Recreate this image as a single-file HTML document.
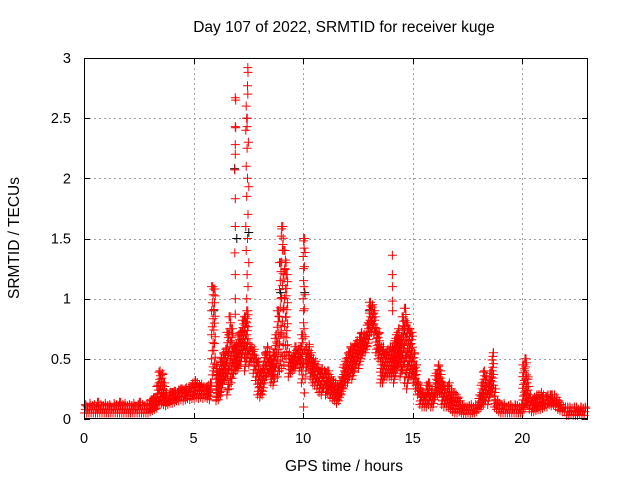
<!DOCTYPE html>
<html><head><meta charset="utf-8"><style>
body{margin:0;background:#fff;}
svg{display:block;font-family:"Liberation Sans",sans-serif;}
</style></head><body>
<svg id="chart" width="640" height="480">
<rect width="640" height="480" fill="#fff"/>
<text x="344" y="32" font-size="15.5" text-anchor="middle">Day 107 of 2022, SRMTID for receiver kuge</text>
<text x="344" y="471" font-size="15.5" text-anchor="middle">GPS time / hours</text>
<text x="19" y="238" font-size="15.5" text-anchor="middle" transform="rotate(-90 19 238)">SRMTID / TECUs</text>
<g id="grid"></g>
<g id="ticks"></g>
<g id="marks"></g>
<rect x="84.5" y="58.5" width="503" height="360" fill="none" stroke="#000"/>
</svg>
<script>
const xTicks=[0,5,10,15,20];
const yTicks=[0,0.5,1,1.5,2,2.5,3];
const yTickLabels=["0","0.5","1","1.5","2","2.5","3"];
const binStart=0, binWidth=0.1;
const lows=[
0.05,0.05,0.05,0.05,0.05,0.05,0.05,0.05,0.05,0.05,
0.05,0.05,0.05,0.05,0.05,0.05,0.05,0.05,0.05,0.05,
0.05,0.05,0.05,0.05,0.05,0.05,0.05,0.05,0.05,0.05,
0.06,0.07,0.08,0.09,0.12,0.13,0.12,0.11,0.12,0.13,
0.13,0.14,0.15,0.15,0.16,0.15,0.16,0.17,0.16,0.17,
0.17,0.18,0.17,0.18,0.17,0.18,0.17,0.16,0.3,0.4,
0.15,0.16,0.2,0.3,0.32,0.2,0.25,0.3,0.38,0.4,
0.42,0.45,0.55,0.4,0.5,0.45,0.48,0.38,0.32,0.2,
0.18,0.2,0.3,0.35,0.38,0.3,0.28,0.4,0.35,0.4,
0.42,0.45,0.5,0.35,0.38,0.4,0.42,0.45,0.4,0.3,
0.1,0.4,0.45,0.35,0.3,0.28,0.25,0.22,0.2,0.25,
0.2,0.22,0.18,0.17,0.15,0.13,0.15,0.2,0.25,0.3,
0.3,0.35,0.33,0.4,0.45,0.42,0.5,0.55,0.55,0.6,
0.7,0.72,0.7,0.55,0.5,0.3,0.3,0.35,0.35,0.35,
0.35,0.3,0.4,0.45,0.35,0.4,0.3,0.25,0.35,0.35,
0.3,0.25,0.2,0.12,0.1,0.1,0.1,0.12,0.1,0.1,
0.18,0.2,0.22,0.12,0.1,0.1,0.1,0.08,0.06,0.05,
0.05,0.06,0.05,0.04,0.04,0.05,0.04,0.05,0.05,0.06,
0.08,0.1,0.12,0.15,0.12,0.2,0.22,0.1,0.08,0.06,
0.05,0.05,0.05,0.05,0.05,0.05,0.05,0.05,0.05,0.05,
0.06,0.1,0.12,0.08,0.06,0.06,0.07,0.08,0.08,0.09,
0.1,0.1,0.12,0.11,0.12,0.1,0.08,0.07,0.06,0.06,
0.03,0.03,0.04,0.03,0.03,0.03,0.04,0.03,0.03];
const highs=[
0.12,0.1,0.13,0.11,0.12,0.1,0.14,0.12,0.11,0.13,
0.11,0.12,0.1,0.13,0.12,0.11,0.14,0.12,0.13,0.11,
0.12,0.11,0.13,0.1,0.12,0.14,0.12,0.11,0.13,0.12,
0.16,0.17,0.18,0.28,0.4,0.38,0.3,0.22,0.2,0.22,
0.22,0.23,0.22,0.24,0.25,0.24,0.26,0.25,0.27,0.3,
0.32,0.3,0.28,0.29,0.27,0.26,0.28,0.3,1.1,1.08,
0.45,0.4,0.5,0.55,0.58,0.72,0.85,0.75,0.6,0.62,
0.7,0.72,0.82,0.85,0.9,0.62,0.6,0.58,0.5,0.48,
0.4,0.45,0.55,0.6,0.55,0.5,0.55,0.7,0.9,1.3,
1.6,1.4,1.2,0.55,0.5,0.55,0.6,0.58,0.6,0.7,
1.5,0.6,0.62,0.55,0.5,0.48,0.45,0.4,0.42,0.4,
0.38,0.4,0.35,0.32,0.3,0.28,0.32,0.35,0.45,0.5,
0.55,0.6,0.58,0.62,0.65,0.68,0.72,0.7,0.7,0.8,
0.97,0.95,0.9,0.75,0.72,0.6,0.6,0.55,0.58,0.6,
0.6,0.65,0.7,0.75,0.68,0.85,0.92,0.8,0.75,0.72,
0.55,0.45,0.3,0.25,0.22,0.2,0.28,0.3,0.25,0.2,
0.38,0.45,0.4,0.3,0.28,0.27,0.3,0.25,0.22,0.2,
0.18,0.15,0.12,0.1,0.1,0.11,0.12,0.1,0.12,0.12,
0.2,0.3,0.4,0.35,0.28,0.4,0.55,0.25,0.15,0.13,
0.12,0.13,0.1,0.11,0.12,0.1,0.12,0.11,0.1,0.12,
0.45,0.5,0.35,0.2,0.15,0.18,0.2,0.2,0.22,0.2,
0.18,0.2,0.2,0.2,0.2,0.18,0.15,0.12,0.1,0.1,
0.1,0.1,0.09,0.1,0.1,0.08,0.1,0.09,0.1];
const spikeTimes=[6.88,6.9,6.88,6.9,6.88,6.88,6.86,6.88,6.88,6.86,6.88,6.88,6.88,
7.45,7.46,7.44,7.45,7.38,7.4,7.42,7.36,7.48,7.42,7.38,7.44,7.5,7.4,7.46,7.36,7.44,7.38,7.5,7.42,7.46,7.4,
9.0,8.98,9.05,9.1,9.2,9.15,
10.0,10.02,9.98,10.0,10.02,9.98,10.0,10.02,
14.05,14.05,14.06,14.05,14.06];
const spikeValues=[2.67,2.65,2.43,2.42,2.28,2.2,2.07,1.83,1.6,1.38,1.2,1.0,0.87,
2.92,2.88,2.77,2.7,2.6,2.5,2.43,2.4,2.3,2.25,2.1,2.0,1.93,1.85,1.7,1.6,1.5,1.4,1.3,1.2,1.1,1.0,
1.58,1.52,1.45,1.4,1.3,1.25,
1.48,1.42,1.35,1.25,1.1,1.0,0.9,0.75,
1.36,1.2,1.1,0.98,0.9];
const blackTimes=[6.85,6.95,7.42,7.5,8.95,10.05,13.0,14.6,5.9,6.6];
const blackValues=[2.08,1.5,2.5,1.55,1.05,1.05,0.9,0.75,0.9,0.7];

const X0=84,X1=588,Y0=419,Y1=58,XMAX=23,YMAX=3;
const xs=v=>X0+(X1-X0)*v/XMAX;
const ys=v=>Y0-(Y0-Y1)*v/YMAX;
const NS="http://www.w3.org/2000/svg";
function mk(tag,attrs,parent){const e=document.createElementNS(NS,tag);for(const k in attrs)e.setAttribute(k,attrs[k]);parent.appendChild(e);return e;}
const grid=document.getElementById('grid'),ticks=document.getElementById('ticks'),marks=document.getElementById('marks');
xTicks.forEach((t,i)=>{const x=Math.round(xs(t))+0.5;
 if(i>0){const g=mk('line',{x1:x,y1:Y1,x2:x,y2:Y0,stroke:'#a0a0a0','stroke-dasharray':'2,3'},grid);
 
 }
 const tk=mk('path',{d:`M${x} ${Y0}v-6M${x} ${Y1}v6`,stroke:'#000'},ticks);
 
 
 const tx=mk('text',{x:xs(t),y:443,'font-size':14.5,'text-anchor':'middle'},ticks);tx.textContent=String(t);
 
 });
yTicks.forEach((t,i)=>{const y=Math.round(ys(t))+0.5;
 if(i>0&&i<yTicks.length-1){const g=mk('line',{x1:X0,y1:y,x2:X1,y2:y,stroke:'#a0a0a0','stroke-dasharray':'2,3'},grid);
 
 }
 const tk=mk('path',{d:`M${X0} ${y}h6M${X1} ${y}h-6`,stroke:'#000'},ticks);
 
 
 const tx=mk('text',{x:71,y:ys(t)+5,'font-size':14.5,'text-anchor':'end'},ticks);tx.textContent=yTickLabels[i];
 
 });
function plus(x,y){return `M${(x-4).toFixed(1)} ${y.toFixed(1)}h9M${(x+0.5).toFixed(1)} ${(y-4.5).toFixed(1)}v9`;}
let dRed='',dBlack='';
lows.forEach((lo,i)=>{const hi=highs[i];const t=binStart+i*binWidth;
 const step=Math.max(0.03,(hi-lo)/12);
 let k=0;
 for(let v=lo;v<=hi+1e-9;v+=step){const tt=t+((k%3)*binWidth/3);dRed+=plus(xs(tt),ys(v));k++;}
 dRed+=plus(xs(t+binWidth/2),ys(hi));});
spikeTimes.forEach((t,i)=>{dRed+=plus(xs(t),ys(spikeValues[i]));});
blackTimes.forEach((t,i)=>{dBlack+=plus(xs(t),ys(blackValues[i]));});
const pb=mk('path',{d:dBlack,stroke:'#000','stroke-width':1,fill:'none'},marks);


const pr=mk('path',{d:dRed,stroke:'#ff0000','stroke-width':1,fill:'none'},marks);


</script>
</body></html>
